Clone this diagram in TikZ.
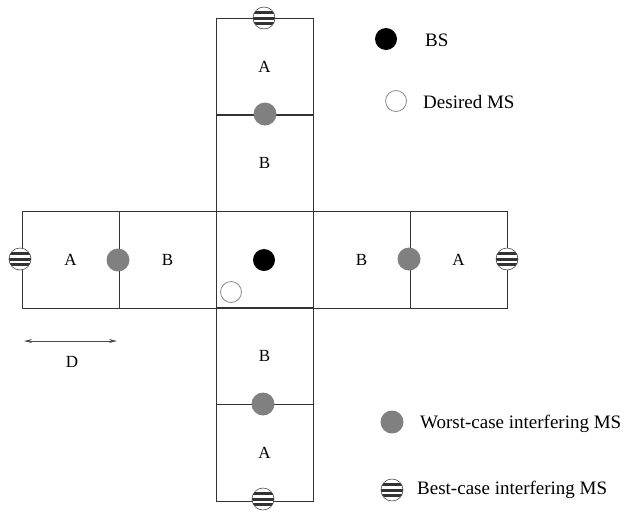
\documentclass[tikz,border=0pt]{standalone}
\usepackage{fontspec}
\setmainfont{Liberation Serif}
\usetikzlibrary{arrows.meta}
\begin{document}
\begin{tikzpicture}[x=1pt,y=-1pt,
  cell/.style={draw=black!80,line width=0.9pt,minimum size=97pt,inner sep=0pt,font=\fontsize{17}{20}\selectfont},
  bsdot/.style={circle,fill=black,minimum size=22pt,inner sep=0pt},
  msdot/.style={circle,draw=black!45,fill=white,line width=0.8pt,minimum size=21pt,inner sep=0pt},
  worst/.style={circle,fill=black!50,minimum size=23pt,inner sep=0pt},
  best/.style={circle,draw=black!70,fill=white,line width=0.6pt,minimum size=22pt,inner sep=0pt,
    path picture={
      \foreach \yy in {-0.5,0,0.5}{
        \fill[black!80] ([yshift=\yy*11pt-1.5pt]path picture bounding box.west) rectangle ([yshift=\yy*11pt+1.5pt]path picture bounding box.east);}
    }},
  lbl/.style={font=\fontsize{19}{22}\selectfont,anchor=west,inner sep=0pt}]
\useasboundingbox (0,0) rectangle (626,512);
% cells
\node[cell] (t2) at (264.5,66.5) {A};
\node[cell] (t1) at (264.5,163) {B};
\node[cell] (c) at (264.5,259.5) {};
\node[cell] (b1) at (264.5,356) {B};
\node[cell] (b2) at (264.5,452.5) {A};
\node[cell] (l2) at (70.5,259.5) {A};
\node[cell] (l1) at (167.5,259.5) {B};
\node[cell] (r1) at (361.5,259.5) {B};
\node[cell] (r2) at (458.5,259.5) {A};
% stations
\node[bsdot] (bs) at (264,260) {};
\node[msdot] (ms) at (231,292) {};
\node[worst] (w1) at (265,114) {};
\node[worst] (w2) at (118,260) {};
\node[worst] (w3) at (409,259) {};
\node[worst] (w4) at (263,404) {};
\node[best] (s1) at (264,18) {};
\node[best] (s2) at (20,259) {};
\node[best] (s3) at (507,259) {};
\node[best] (s4) at (263,499) {};
% distance
\coordinate (d1) at (24,341);
\coordinate (d2) at (117,341);
\draw[black!70,line width=0.9pt,{Stealth[length=8pt,width=4pt]}-{Stealth[length=8pt,width=4pt]}] (d1) -- (d2);
\node[font=\fontsize{17}{20}\selectfont] (dl) at (72,362) {D};
% legend
\node[bsdot] (lbs) at (386,39) {};
\node[lbl] (tbs) at (425,40) {BS};
\node[msdot] (lms) at (396,101) {};
\node[lbl] (tms) at (423,102) {Desired MS};
\node[worst] (lw) at (392,422) {};
\node[lbl] (tw) at (420,424) {Worst-case interfering MS};
\node[best] (lb) at (392,490) {};
\node[lbl] (tb) at (417,490) {Best-case interfering MS};
\end{tikzpicture}
\end{document}
